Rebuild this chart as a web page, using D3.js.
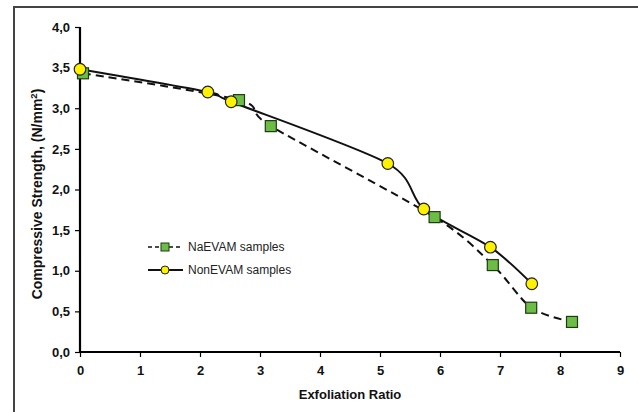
<!DOCTYPE html>
<html><head><meta charset="utf-8">
<script src="https://cdn.jsdelivr.net/npm/d3@7"></script>
<style>body{margin:0;background:#fff}svg{display:block;font-family:Arial,"Liberation Sans",sans-serif}</style>
</head><body>
<svg id="c" width="638" height="412"></svg>
<script>
const naX = [0.05, 2.65, 3.18, 5.91, 6.88, 7.52, 8.2];
const naY = [3.43, 3.10, 2.78, 1.66, 1.07, 0.545, 0.37];
const nonX = [0.0, 2.13, 2.52, 5.13, 5.73, 6.84, 7.53];
const nonY = [3.48, 3.20, 3.08, 2.32, 1.76, 1.29, 0.84];
const xTicks = [0,1,2,3,4,5,6,7,8,9];
const yTicks = [0,0.5,1,1.5,2,2.5,3,3.5,4];
const seriesNames = ["NaEVAM samples", "NonEVAM samples"];

const svg = d3.select("#c");
const x = d3.scaleLinear().domain([0,9]).range([80,620]);
const y = d3.scaleLinear().domain([0,4]).range([352,27]);

// outer frame (left + top)
svg.append("path").attr("d","M14,412 L14,7 L638,7").attr("fill","none").attr("stroke","#444").attr("stroke-width",2);

const fmt = d => d3.format(".1f")(d).replace(".", ",");

const yAxis = svg.append("g").attr("transform","translate(80,0)")
  .call(d3.axisLeft(y).tickValues(yTicks).tickFormat(fmt).tickSize(5).tickPadding(5));
const xAxis = svg.append("g").attr("transform","translate(0,352)")
  .call(d3.axisBottom(x).tickValues(xTicks).tickFormat(d3.format("d")).tickSize(5).tickPadding(9));
[xAxis,yAxis].forEach(a=>{
  a.select(".domain").attr("stroke","#000").attr("stroke-width",2.2);
  a.selectAll(".tick line").attr("stroke","#000").attr("stroke-width",1.2);
  a.selectAll("text").attr("font-size",13).attr("font-weight","bold").attr("fill","#111")
   .attr("font-family","Arial, 'Liberation Sans', sans-serif");
});
xAxis.select(".domain").attr("d","M80,0H620");
yAxis.select(".domain").attr("d","M0,27V352");

svg.append("text").attr("x",350).attr("y",399).attr("text-anchor","middle")
  .attr("font-size",13).attr("font-weight","bold").attr("fill","#111").text("Exfoliation Ratio");
const yt = svg.append("text").attr("transform","translate(42,194) rotate(-90)").attr("text-anchor","middle")
  .attr("font-size",14).attr("font-weight","bold").attr("fill","#111");
yt.append("tspan").text("Compressive Strength, (N/mm");
yt.append("tspan").attr("font-size",9.5).attr("dy",-5).text("2");
yt.append("tspan").attr("dy",5).text(")");

const curve = d3.curveCardinal.tension(0.15);
const na = naX.map((v,i)=>[v,naY[i]]);
const non = nonX.map((v,i)=>[v,nonY[i]]);
const line = d3.line().x(d=>x(d[0])).y(d=>y(d[1])).curve(curve);

svg.append("path").attr("d",line(na)).attr("fill","none").attr("stroke","#111")
  .attr("stroke-width",2).attr("stroke-dasharray","8,5");
svg.append("path").attr("d",line(non)).attr("fill","none").attr("stroke","#111")
  .attr("stroke-width",2);

const green = "#6cbd45", sq = 11;
svg.selectAll("rect.na").data(na).enter().append("rect")
  .attr("x",d=>x(d[0])-sq/2).attr("y",d=>y(d[1])-sq/2).attr("width",sq).attr("height",sq)
  .attr("fill",green).attr("stroke","#1f3a14").attr("stroke-width",1.2);
svg.selectAll("circle.non").data(non).enter().append("circle")
  .attr("cx",d=>x(d[0])).attr("cy",d=>y(d[1])).attr("r",5.8)
  .attr("fill","#fff200").attr("stroke","#222").attr("stroke-width",1.2);

// legend
const lg = svg.append("g");
lg.append("line").attr("x1",148).attr("x2",182).attr("y1",247).attr("y2",247)
  .attr("stroke","#111").attr("stroke-width",1.6).attr("stroke-dasharray","4,3");
lg.append("rect").attr("x",161).attr("y",243).attr("width",8).attr("height",8)
  .attr("fill",green).attr("stroke","#1f3a14").attr("stroke-width",1);
lg.append("line").attr("x1",148).attr("x2",183).attr("y1",270).attr("y2",270)
  .attr("stroke","#111").attr("stroke-width",1.8);
lg.append("circle").attr("cx",165).attr("cy",270).attr("r",4)
  .attr("fill","#fff200").attr("stroke","#222").attr("stroke-width",1);
lg.selectAll("text").data(seriesNames).enter().append("text")
  .attr("x",188).attr("y",(d,i)=>251+i*23).attr("font-size",12).attr("fill","#222").text(d=>d);
</script>
</body></html>
